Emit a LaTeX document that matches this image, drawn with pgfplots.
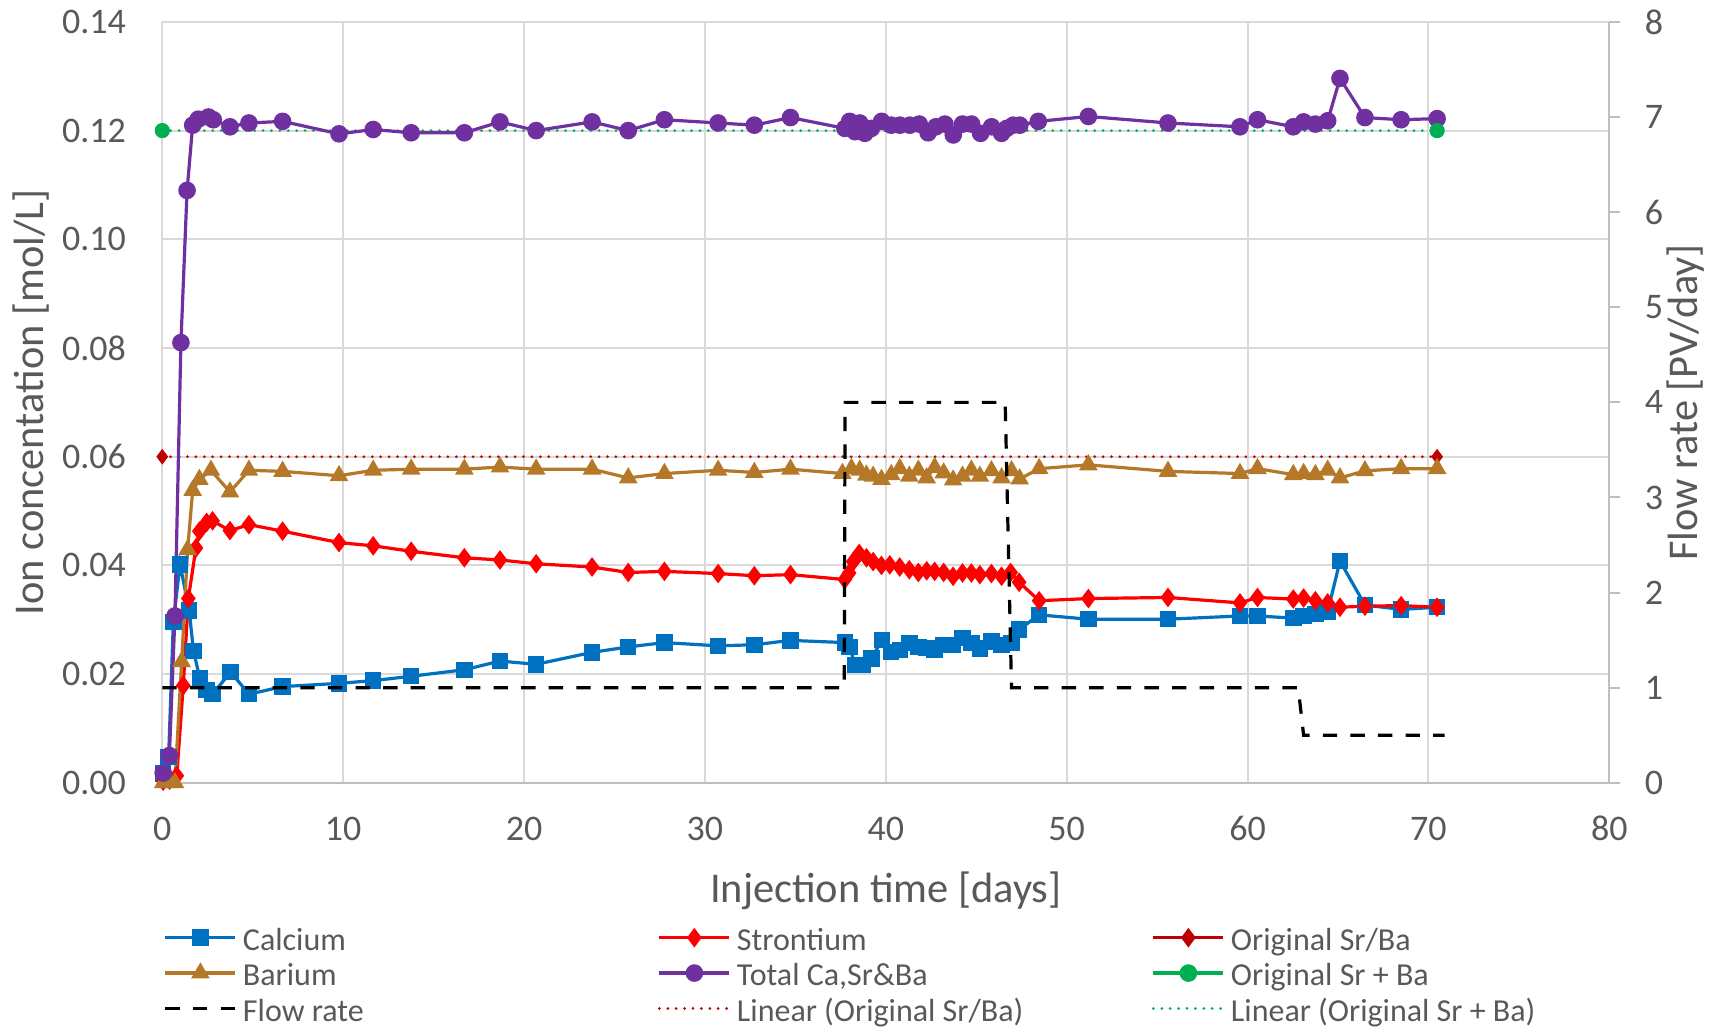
\documentclass[border=0pt]{standalone}
\usepackage{fontspec}
\setmainfont{Carlito}
\usepackage{pgfplots}
\pgfplotsset{compat=1.18}
\definecolor{txt}{HTML}{595959}
\definecolor{gridc}{HTML}{D9D9D9}
\definecolor{axc}{HTML}{BFBFBF}
\definecolor{cca}{HTML}{0070C0}
\definecolor{csr}{HTML}{FF0000}
\definecolor{cosr}{HTML}{C00000}
\definecolor{cba}{HTML}{B47828}
\definecolor{ctot}{HTML}{7030A0}
\definecolor{corig}{HTML}{00B050}
\newcommand\lgent[1]{\makebox[210.4pt][l]{\hspace{3pt}\rule[-3.8pt]{0pt}{18pt}#1}}
\begin{document}
\begin{tikzpicture}
\begin{axis}[
  scale only axis, width=723.5pt, height=380.45pt,
  xmin=0, xmax=80, ymin=0, ymax=0.14,
  xtick={0,10,20,30,40,50,60,70,80},
  ytick={0,0.02,0.04,0.06,0.08,0.10,0.12,0.14},
  grid=major, major grid style={draw=gridc, line width=1pt},
  axis x line*=bottom, axis y line*=left,
  axis line style={draw=gridc, line width=1pt, -},
  x axis line style={draw=axc},
  major tick length=0pt,
  /pgf/number format/assume math mode=true,
  tick label style={font=\fontsize{18}{21}\selectfont, text=txt},
  yticklabel style={/pgf/number format/.cd, fixed, fixed zerofill, precision=2, /tikz/.cd, anchor=east, inner sep=0pt, xshift=-18pt},
  xticklabel style={anchor=base, inner sep=0pt, yshift=-29pt},
  xlabel={Injection time [days]},
  xlabel style={at={(axis description cs:0.5,-0.1569)}, anchor=base, inner sep=0pt, font=\fontsize{21.2}{25}\selectfont, text=txt},
  ylabel={Ion concentation [mol/L]},
  ylabel style={at={(axis description cs:-0.0909,0.5)}, anchor=center, inner sep=0pt, font=\fontsize{21.2}{25}\selectfont, text=txt},
  legend columns=3,
  legend cell align=left,
  legend style={at={(axis description cs:0.00104,-0.1829)}, anchor=north west, draw=none, fill=none, inner sep=0pt, outer sep=0pt, column sep=0pt, row sep=2pt, font=\fontsize{16}{19}\selectfont, text=txt, nodes={inner sep=0pt}},
  legend image code/.code={\draw[#1, mark repeat=2, mark phase=2] plot coordinates {(0pt,0pt) (17.5pt,0pt) (35pt,0pt)};},
]
% legend entries
\addlegendimage{cca, line width=1.6pt, mark=square*, mark size=3.3pt}
\addlegendentry{\lgent{Calcium}}
\addlegendimage{csr, line width=1.6pt, mark=diamond*, mark size=3.6pt}
\addlegendentry{\lgent{Strontium}}
\addlegendimage{cosr, line width=1.6pt, mark=diamond*, mark size=3.6pt}
\addlegendentry{\lgent{Original Sr/Ba}}
\addlegendimage{cba, line width=1.6pt, mark=triangle*, mark size=3.8pt}
\addlegendentry{\lgent{Barium}}
\addlegendimage{ctot, line width=1.6pt, mark=*, mark size=3.6pt}
\addlegendentry{\lgent{Total Ca,Sr\&Ba}}
\addlegendimage{corig, line width=1.6pt, mark=*, mark size=3.6pt}
\addlegendentry{\lgent{Original Sr + Ba}}
\addlegendimage{black, line width=1.6pt, dash pattern=on 7.2pt off 6.6pt}
\addlegendentry{\lgent{Flow rate}}
\addlegendimage{cosr, line width=1.5pt, line cap=round, dash pattern=on 0pt off 4.2pt}
\addlegendentry{\lgent{Linear (Original Sr/Ba)}}
\addlegendimage{corig, line width=1.5pt, line cap=round, dash pattern=on 0pt off 4.2pt}
\addlegendentry{\lgent{Linear (Original Sr + Ba)}}
% trendlines
\addplot[forget plot, cosr, line width=1.5pt, line cap=round, dash pattern=on 0pt off 4.2pt] coordinates {(0,0.06) (70.48,0.06)};
\addplot[forget plot, corig, line width=1.5pt, line cap=round, dash pattern=on 0pt off 4.2pt] coordinates {(0,0.12) (70.48,0.12)};
% Calcium
\addplot[forget plot, cca, line width=1.6pt, mark=square*, mark size=3.3pt] coordinates {
(0.05,0.0017) (0.35,0.0048) (0.61,0.0296) (0.98,0.0402) (1.49,0.0317) (1.72,0.0243) (2.08,0.0192) (2.45,0.0171) (2.78,0.0163) (3.78,0.0204) (4.79,0.0163) (6.65,0.0177) (9.77,0.0183) (11.66,0.0188) (13.76,0.0196) (16.7,0.0208) (18.67,0.0224) (20.67,0.0218) (23.76,0.0240) (25.76,0.0250) (27.76,0.0258) (30.73,0.0252) (32.73,0.0254) (34.73,0.0262) (37.73,0.0258) (38.0,0.0250) (38.3,0.0217) (38.75,0.0217) (39.2,0.0229) (39.8,0.0263) (40.3,0.0241) (40.77,0.0244) (41.3,0.0257) (41.8,0.0250) (42.26,0.0248) (42.7,0.0244) (43.2,0.0254) (43.72,0.0254) (44.24,0.0266) (44.73,0.0257) (45.2,0.0247) (45.84,0.0260) (46.4,0.0254) (46.95,0.0257) (47.37,0.0282) (48.48,0.0309) (51.2,0.0301) (55.6,0.0301) (59.58,0.0307) (60.55,0.0307) (62.53,0.0303) (63.1,0.0307) (63.75,0.0311) (64.43,0.0315) (65.11,0.0408) (66.49,0.0327) (68.49,0.0319) (70.48,0.0323)};
% Strontium
\addplot[forget plot, csr, line width=1.6pt, mark=diamond*, mark size=3.6pt] coordinates {
(0.05,0.0003) (0.4,0.0005) (0.8,0.0013) (1.16,0.0179) (1.44,0.0339) (1.86,0.0432) (2.05,0.0463) (2.45,0.0479) (2.78,0.0482) (3.74,0.0464) (4.79,0.0475) (6.65,0.0463) (9.77,0.0442) (11.66,0.0436) (13.76,0.0426) (16.7,0.0414) (18.67,0.0410) (20.67,0.0403) (23.76,0.0397) (25.76,0.0387) (27.76,0.0389) (30.73,0.0385) (32.73,0.0381) (34.73,0.0383) (37.73,0.0374) (37.97,0.0386) (38.2,0.0407) (38.53,0.0422) (38.93,0.0414) (39.3,0.0407) (39.76,0.0400) (40.22,0.0401) (40.77,0.0397) (41.3,0.0392) (41.8,0.0387) (42.26,0.0390) (42.7,0.0389) (43.2,0.0387) (43.72,0.0380) (44.24,0.0386) (44.73,0.0386) (45.2,0.0383) (45.84,0.0385) (46.4,0.0380) (46.9,0.0387) (47.37,0.0369) (48.48,0.0335) (51.2,0.0339) (55.6,0.0341) (59.58,0.0331) (60.55,0.0341) (62.53,0.0338) (63.1,0.0340) (63.75,0.0335) (64.43,0.0331) (65.11,0.0323) (66.49,0.0325) (68.49,0.0326) (70.48,0.0323)};
% Original Sr/Ba
\addplot[forget plot, only marks, cosr, mark=diamond*, mark size=3.6pt] coordinates {(0,0.06) (70.48,0.06)};
% Barium
\addplot[forget plot, cba, line width=1.6pt, mark=triangle*, mark size=3.8pt] coordinates {
(0.05,0.0) (0.4,0.0) (0.7,0.0) (1.07,0.0223) (1.40,0.0429) (1.68,0.0538) (2.05,0.0558) (2.69,0.0575) (3.74,0.0535) (4.79,0.0575) (6.65,0.0573) (9.77,0.0565) (11.66,0.0575) (13.76,0.0577) (16.7,0.0577) (18.67,0.0581) (20.67,0.0577) (23.76,0.0577) (25.76,0.0561) (27.76,0.0569) (30.73,0.0575) (32.73,0.0571) (34.73,0.0577) (37.6,0.0569) (38.1,0.0578) (38.56,0.0575) (38.93,0.0566) (39.3,0.0564) (39.76,0.0558) (40.3,0.0567) (40.77,0.0578) (41.3,0.0564) (41.8,0.0575) (42.26,0.0561) (42.7,0.0580) (43.2,0.0570) (43.72,0.0557) (44.24,0.0564) (44.73,0.0575) (45.2,0.0564) (45.84,0.0574) (46.4,0.0561) (46.95,0.0574) (47.4,0.0559) (48.48,0.0578) (51.2,0.0585) (55.6,0.0573) (59.58,0.0569) (60.55,0.0578) (62.53,0.0567) (63.1,0.0569) (63.75,0.0567) (64.43,0.0575) (65.11,0.0561) (66.49,0.0574) (68.49,0.0578) (70.48,0.0578)};
% Total
\addplot[forget plot, ctot, line width=1.6pt, mark=*, mark size=3.6pt] coordinates {
(0.05,0.0018) (0.39,0.0050) (0.70,0.0307) (1.03,0.0810) (1.37,0.1090) (1.68,0.1210) (1.99,0.1221) (2.55,0.1225) (2.82,0.1220) (3.74,0.1207) (4.79,0.1214) (6.65,0.1217) (9.77,0.1194) (11.66,0.1202) (13.76,0.1196) (16.7,0.1196) (18.67,0.1216) (20.67,0.1200) (23.76,0.1216) (25.76,0.1200) (27.76,0.1220) (30.73,0.1214) (32.73,0.1210) (34.73,0.1224) (37.74,0.1204) (38.0,0.1217) (38.3,0.1198) (38.56,0.1214) (38.84,0.1195) (39.2,0.1204) (39.77,0.1217) (40.3,0.1210) (40.78,0.1210) (41.33,0.1210) (41.85,0.1212) (42.34,0.1196) (42.77,0.1207) (43.27,0.1212) (43.73,0.1192) (44.24,0.1212) (44.74,0.1212) (45.24,0.1195) (45.85,0.1207) (46.4,0.1195) (46.68,0.1204) (47.04,0.1210) (47.41,0.1210) (48.43,0.1217) (51.2,0.1226) (55.6,0.1214) (59.58,0.1207) (60.55,0.1220) (62.53,0.1207) (63.1,0.1216) (63.75,0.1212) (64.43,0.1218) (65.11,0.1296) (66.49,0.1224) (68.49,0.1220) (70.48,0.1222)};
% Original Sr + Ba
\addplot[forget plot, only marks, corig, mark=*, mark size=3.6pt] coordinates {(0,0.12) (70.48,0.12)};
\end{axis}
\begin{axis}[
  scale only axis, width=723.5pt, height=380.45pt,
  xmin=0, xmax=80, ymin=0, ymax=8,
  axis x line=none, axis y line*=right,
  axis line style={draw=axc, line width=1pt, -},
  ytick={0,1,2,3,4,5,6,7,8},
  tick align=outside, major tick length=5.5pt,
  tick style={draw=axc, line width=1pt},
  /pgf/number format/assume math mode=true,
  tick label style={font=\fontsize{18}{21}\selectfont, text=txt},
  yticklabel style={anchor=west, inner sep=0pt, xshift=12.1pt},
  ylabel={Flow rate [PV/day]},
  ylabel style={at={(axis description cs:1.0528,0.5)}, anchor=center, inner sep=0pt, font=\fontsize{21.2}{25}\selectfont, text=txt},
]
\addplot[black, line width=1.6pt, dash pattern=on 7.2pt off 6.6pt] coordinates {
(0,1) (37.7,1) (37.75,4) (46.6,4) (46.95,1) (62.8,1) (63.1,0.5) (70.9,0.5)};
\end{axis}
\pgfresetboundingbox
\path[use as bounding box] (-81.15pt,-123.1pt) rectangle (778.35pt,391.4pt);
\end{tikzpicture}
\end{document}
